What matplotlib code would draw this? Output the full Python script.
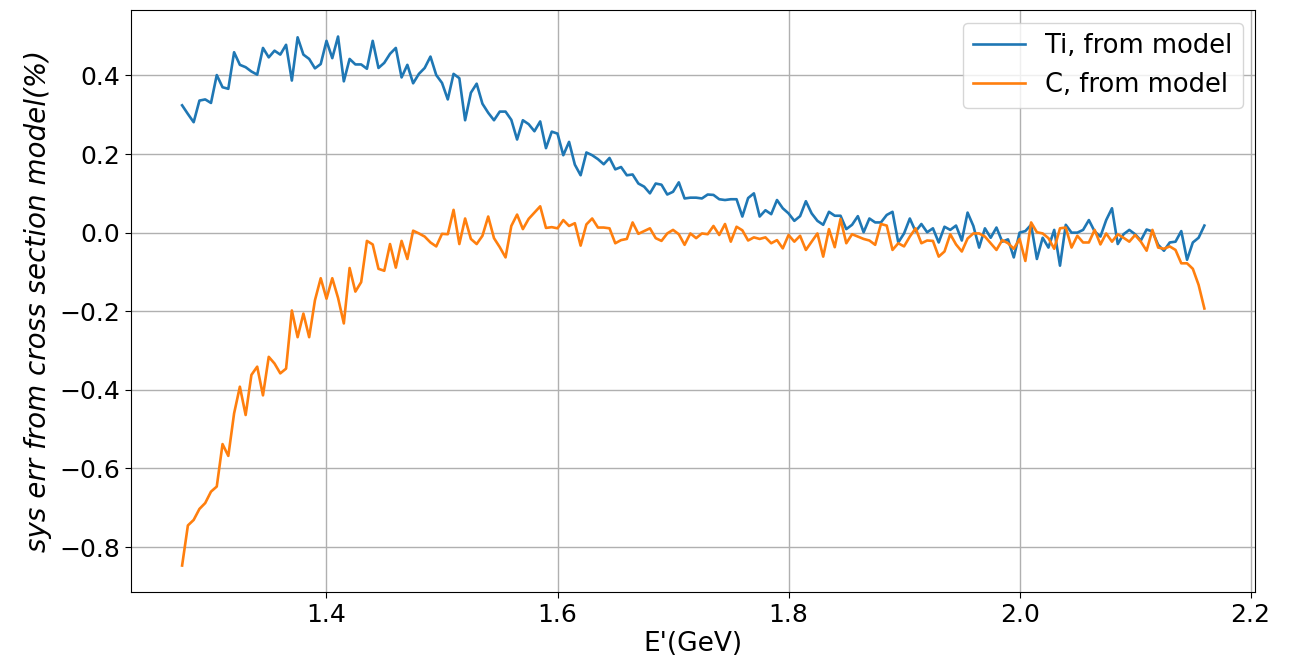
import numpy as np
import matplotlib
matplotlib.use("Agg")
import matplotlib.pyplot as plt

# Scattered-energy grid (GeV)
e_start = 1.275
e_step = 0.005

# Systematic error from the cross-section model, Ti target (%)
ti_err = [
    0.324, 0.302, 0.281, 0.336, 0.339, 0.330, 0.401, 0.370, 0.366, 0.459,
    0.427, 0.421, 0.410, 0.402, 0.470, 0.446, 0.463, 0.453, 0.478, 0.387,
    0.497, 0.453, 0.442, 0.418, 0.429, 0.488, 0.444, 0.499, 0.385, 0.442,
    0.428, 0.428, 0.417, 0.488, 0.419, 0.432, 0.455, 0.470, 0.395, 0.427,
    0.380, 0.404, 0.419, 0.448, 0.401, 0.381, 0.339, 0.404, 0.393, 0.286,
    0.356, 0.379, 0.328, 0.305, 0.286, 0.308, 0.308, 0.287, 0.237, 0.286,
    0.276, 0.258, 0.283, 0.215, 0.257, 0.252, 0.197, 0.231, 0.173, 0.146,
    0.204, 0.197, 0.187, 0.174, 0.190, 0.161, 0.167, 0.146, 0.148, 0.125,
    0.117, 0.100, 0.125, 0.122, 0.097, 0.104, 0.128, 0.087, 0.089, 0.089,
    0.087, 0.097, 0.096, 0.085, 0.083, 0.085, 0.085, 0.041, 0.088, 0.100,
    0.041, 0.057, 0.047, 0.083, 0.062, 0.049, 0.030, 0.042, 0.080, 0.049,
    0.030, 0.020, 0.053, 0.043, 0.043, 0.009, 0.020, 0.042, 0.001, 0.036,
    0.026, 0.026, 0.045, 0.053, -0.025, -0.002, 0.036, 0.003, 0.022, 0.001,
    0.011, -0.025, 0.015, 0.007, 0.018, -0.020, 0.051, 0.017, -0.038, 0.011,
    -0.013, 0.013, -0.023, -0.017, -0.063, 0.000, 0.004, 0.020, -0.067, -0.013,
    -0.038, 0.007, -0.084, 0.020, 0.000, 0.000, 0.007, 0.032, 0.003, -0.010,
    0.032, 0.062, -0.029, -0.004, 0.007, -0.004, -0.020, 0.008, 0.003, -0.031,
    -0.046, -0.025, -0.023, 0.004, -0.069, -0.025, -0.013, 0.018,
]

# Systematic error from the cross-section model, C target (%)
c_err = [
    -0.847, -0.745, -0.731, -0.703, -0.688, -0.659, -0.646, -0.538, -0.568, -0.460,
    -0.392, -0.464, -0.362, -0.341, -0.414, -0.316, -0.333, -0.358, -0.346, -0.198,
    -0.266, -0.206, -0.266, -0.172, -0.116, -0.168, -0.116, -0.166, -0.231, -0.090,
    -0.150, -0.126, -0.021, -0.030, -0.092, -0.097, -0.029, -0.089, -0.021, -0.067,
    0.005, -0.002, -0.010, -0.025, -0.035, -0.003, -0.004, 0.058, -0.029, 0.036,
    -0.016, -0.029, -0.008, 0.041, -0.014, -0.037, -0.063, 0.017, 0.046, 0.009,
    0.035, 0.051, 0.067, 0.012, 0.014, 0.011, 0.032, 0.017, 0.024, -0.033,
    0.021, 0.036, 0.013, 0.013, 0.011, -0.027, -0.019, -0.016, 0.026, -0.003,
    0.004, 0.011, -0.014, -0.021, -0.002, 0.007, -0.004, -0.031, -0.002, -0.014,
    -0.002, -0.004, 0.017, -0.006, 0.022, -0.023, 0.015, 0.006, -0.020, -0.012,
    -0.016, -0.012, -0.027, -0.019, -0.040, -0.006, -0.023, -0.008, -0.044, -0.023,
    -0.002, -0.061, 0.009, -0.037, 0.035, -0.027, -0.004, -0.010, -0.016, -0.020,
    -0.031, 0.022, 0.018, -0.044, -0.027, -0.035, -0.010, 0.011, -0.027, -0.020,
    -0.021, -0.061, -0.048, -0.004, -0.030, -0.048, -0.015, -0.002, -0.002, -0.010,
    -0.027, -0.044, -0.019, -0.027, -0.041, -0.016, -0.072, 0.026, 0.001, -0.002,
    -0.014, -0.041, 0.011, 0.013, -0.038, -0.008, -0.025, -0.025, 0.007, -0.030,
    -0.002, -0.023, -0.004, -0.013, -0.023, -0.006, -0.023, -0.046, 0.007, -0.038,
    -0.041, -0.035, -0.044, -0.078, -0.078, -0.092, -0.133, -0.193,
]

energy = e_start + e_step * np.arange(len(ti_err))

fig = plt.figure(figsize=(12.97, 6.59), dpi=100)
ax = fig.add_axes([0.101, 0.1017, 0.867, 0.883])

ax.plot(energy, ti_err, color="#1f77b4", lw=1.9, label="Ti, from model")
ax.plot(energy, c_err, color="#ff7f0e", lw=1.9, label="C, from model")

ax.grid(True, color="#b0b0b0", lw=1)
ax.tick_params(labelsize=18, length=4.5)
ax.set_xlabel("E'(GeV)", fontsize=19, labelpad=3)
ax.set_ylabel("sys err from cross section model(%)", fontsize=20,
              style="italic", labelpad=5)
ax.legend(loc="upper right", fontsize=18.5)

fig.savefig("out.png", dpi=100)
